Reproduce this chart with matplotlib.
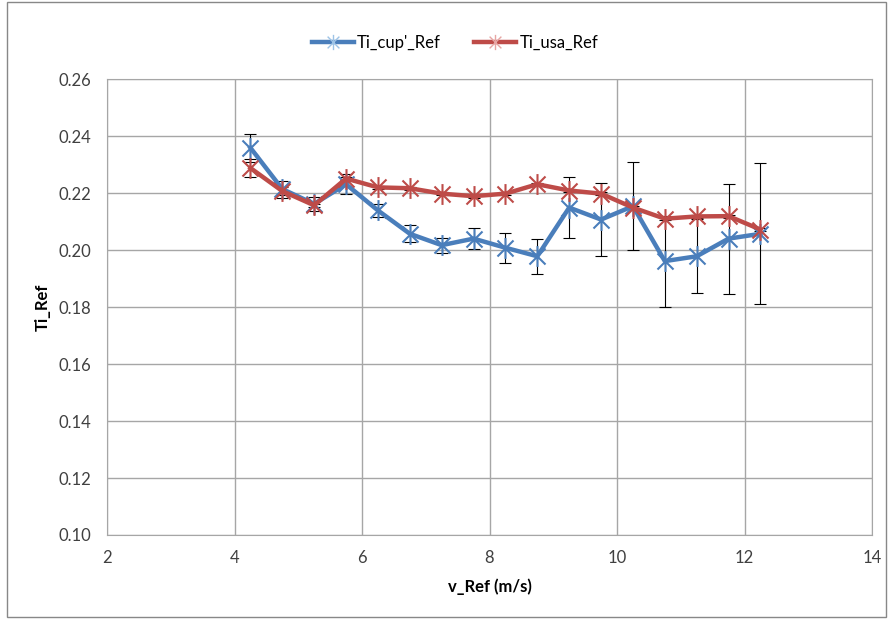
import matplotlib
matplotlib.use("Agg")
import matplotlib.pyplot as plt
from matplotlib.path import Path
from matplotlib.patches import Rectangle

# Données
v_ref = [4.25, 4.75, 5.25, 5.75, 6.25, 6.75, 7.25, 7.75, 8.25,
         8.75, 9.25, 9.75, 10.25, 10.75, 11.25, 11.75, 12.25]
ti_cup = [0.236, 0.2215, 0.2163, 0.2232, 0.214, 0.2058, 0.2018, 0.2041, 0.2009,
          0.1979, 0.215, 0.2108, 0.2155, 0.1962, 0.1979, 0.2041, 0.2058]
ti_cup_err = [0.005, 0.003, 0.0025, 0.0035, 0.0022, 0.003, 0.0026, 0.0038, 0.0052,
              0.0062, 0.0107, 0.0127, 0.0155, 0.016, 0.013, 0.0193, 0.0248]
ti_usa = [0.2289, 0.2208, 0.2158, 0.2252, 0.2221, 0.2218, 0.2199, 0.219, 0.2199,
          0.2232, 0.221, 0.2199, 0.215, 0.2111, 0.2119, 0.212, 0.2073]
ti_usa_err = [0.003, 0.0015, 0.0005, 0.0005, 0.0005, 0.0005, 0.0005, 0.0005, 0.0005,
              0.0005, 0.0005, 0.0005, 0.0005, 0.0005, 0.0005, 0.0005, 0.0005]

x_ticks = [2, 4, 6, 8, 10, 12, 14]
y_ticks = [0.10, 0.12, 0.14, 0.16, 0.18, 0.20, 0.22, 0.24, 0.26]

plt.rcParams["font.family"] = ["Lato", "DejaVu Sans"]

# marqueur "*" façon Excel : croix + trait vertical
star = Path([(-1, -1), (1, 1), (-1, 1), (1, -1), (0, -1.3), (0, 1.3)],
            [Path.MOVETO, Path.LINETO, Path.MOVETO, Path.LINETO, Path.MOVETO, Path.LINETO])

blue = "#4A7EBB"
red = "#BE4B48"

fig = plt.figure(figsize=(8.88, 6.21), dpi=100)
ax = fig.add_axes([0.1205, 0.1385, 0.8615, 0.7335])

ax.errorbar(v_ref, ti_cup, yerr=ti_cup_err, fmt="none", ecolor="black",
            elinewidth=0.8, capsize=4, capthick=0.8, zorder=2)
ax.errorbar(v_ref, ti_usa, yerr=ti_usa_err, fmt="none", ecolor="black",
            elinewidth=0.8, capsize=4, capthick=0.8, zorder=2)
ax.plot(v_ref, ti_cup, color=blue, linewidth=3.2, marker=star, markersize=15,
        markeredgewidth=1.5, label="Ti_cup'_Ref", zorder=3)
ax.plot(v_ref, ti_usa, color=red, linewidth=3.2, marker=star, markersize=15,
        markeredgewidth=1.5, label="Ti_usa_Ref", zorder=4)

ax.set_xlim(2, 14)
ax.set_ylim(0.10, 0.26)
ax.set_xticks(x_ticks)
ax.set_yticks(y_ticks)
ax.set_yticklabels([f"{t:.2f}" for t in y_ticks])
ax.tick_params(length=0, labelsize=12, colors="#404040", pad=11)
ax.grid(color="#A6A6A6", linewidth=1)
ax.set_axisbelow(True)
for s in ax.spines.values():
    s.set_color("#A6A6A6")

ax.set_xlabel("v_Ref (m/s)", fontsize=12, fontweight="bold", labelpad=9)
ax.set_ylabel("Ti_Ref", fontsize=12, fontweight="bold", labelpad=6)

leg = ax.legend(loc="lower center", bbox_to_anchor=(0.455, 1.03), ncol=2,
                frameon=False, fontsize=12, handlelength=2.5, columnspacing=2,
                handletextpad=0.2)
# marqueurs plus clairs dans la légende, comme dans Excel
for h, c in zip(leg.get_lines(), ["#9DC3E6", "#E6A5A3"]):
    h.set_markeredgecolor(c)
    h.set_markersize(11)
    h.set_markeredgewidth(1)

# cadre du graphique
fig.patches.append(Rectangle((0.008, 0.006), 0.99, 0.99, transform=fig.transFigure,
                             fill=False, edgecolor="#888888", linewidth=1))

plt.savefig("out.png", dpi=100)
